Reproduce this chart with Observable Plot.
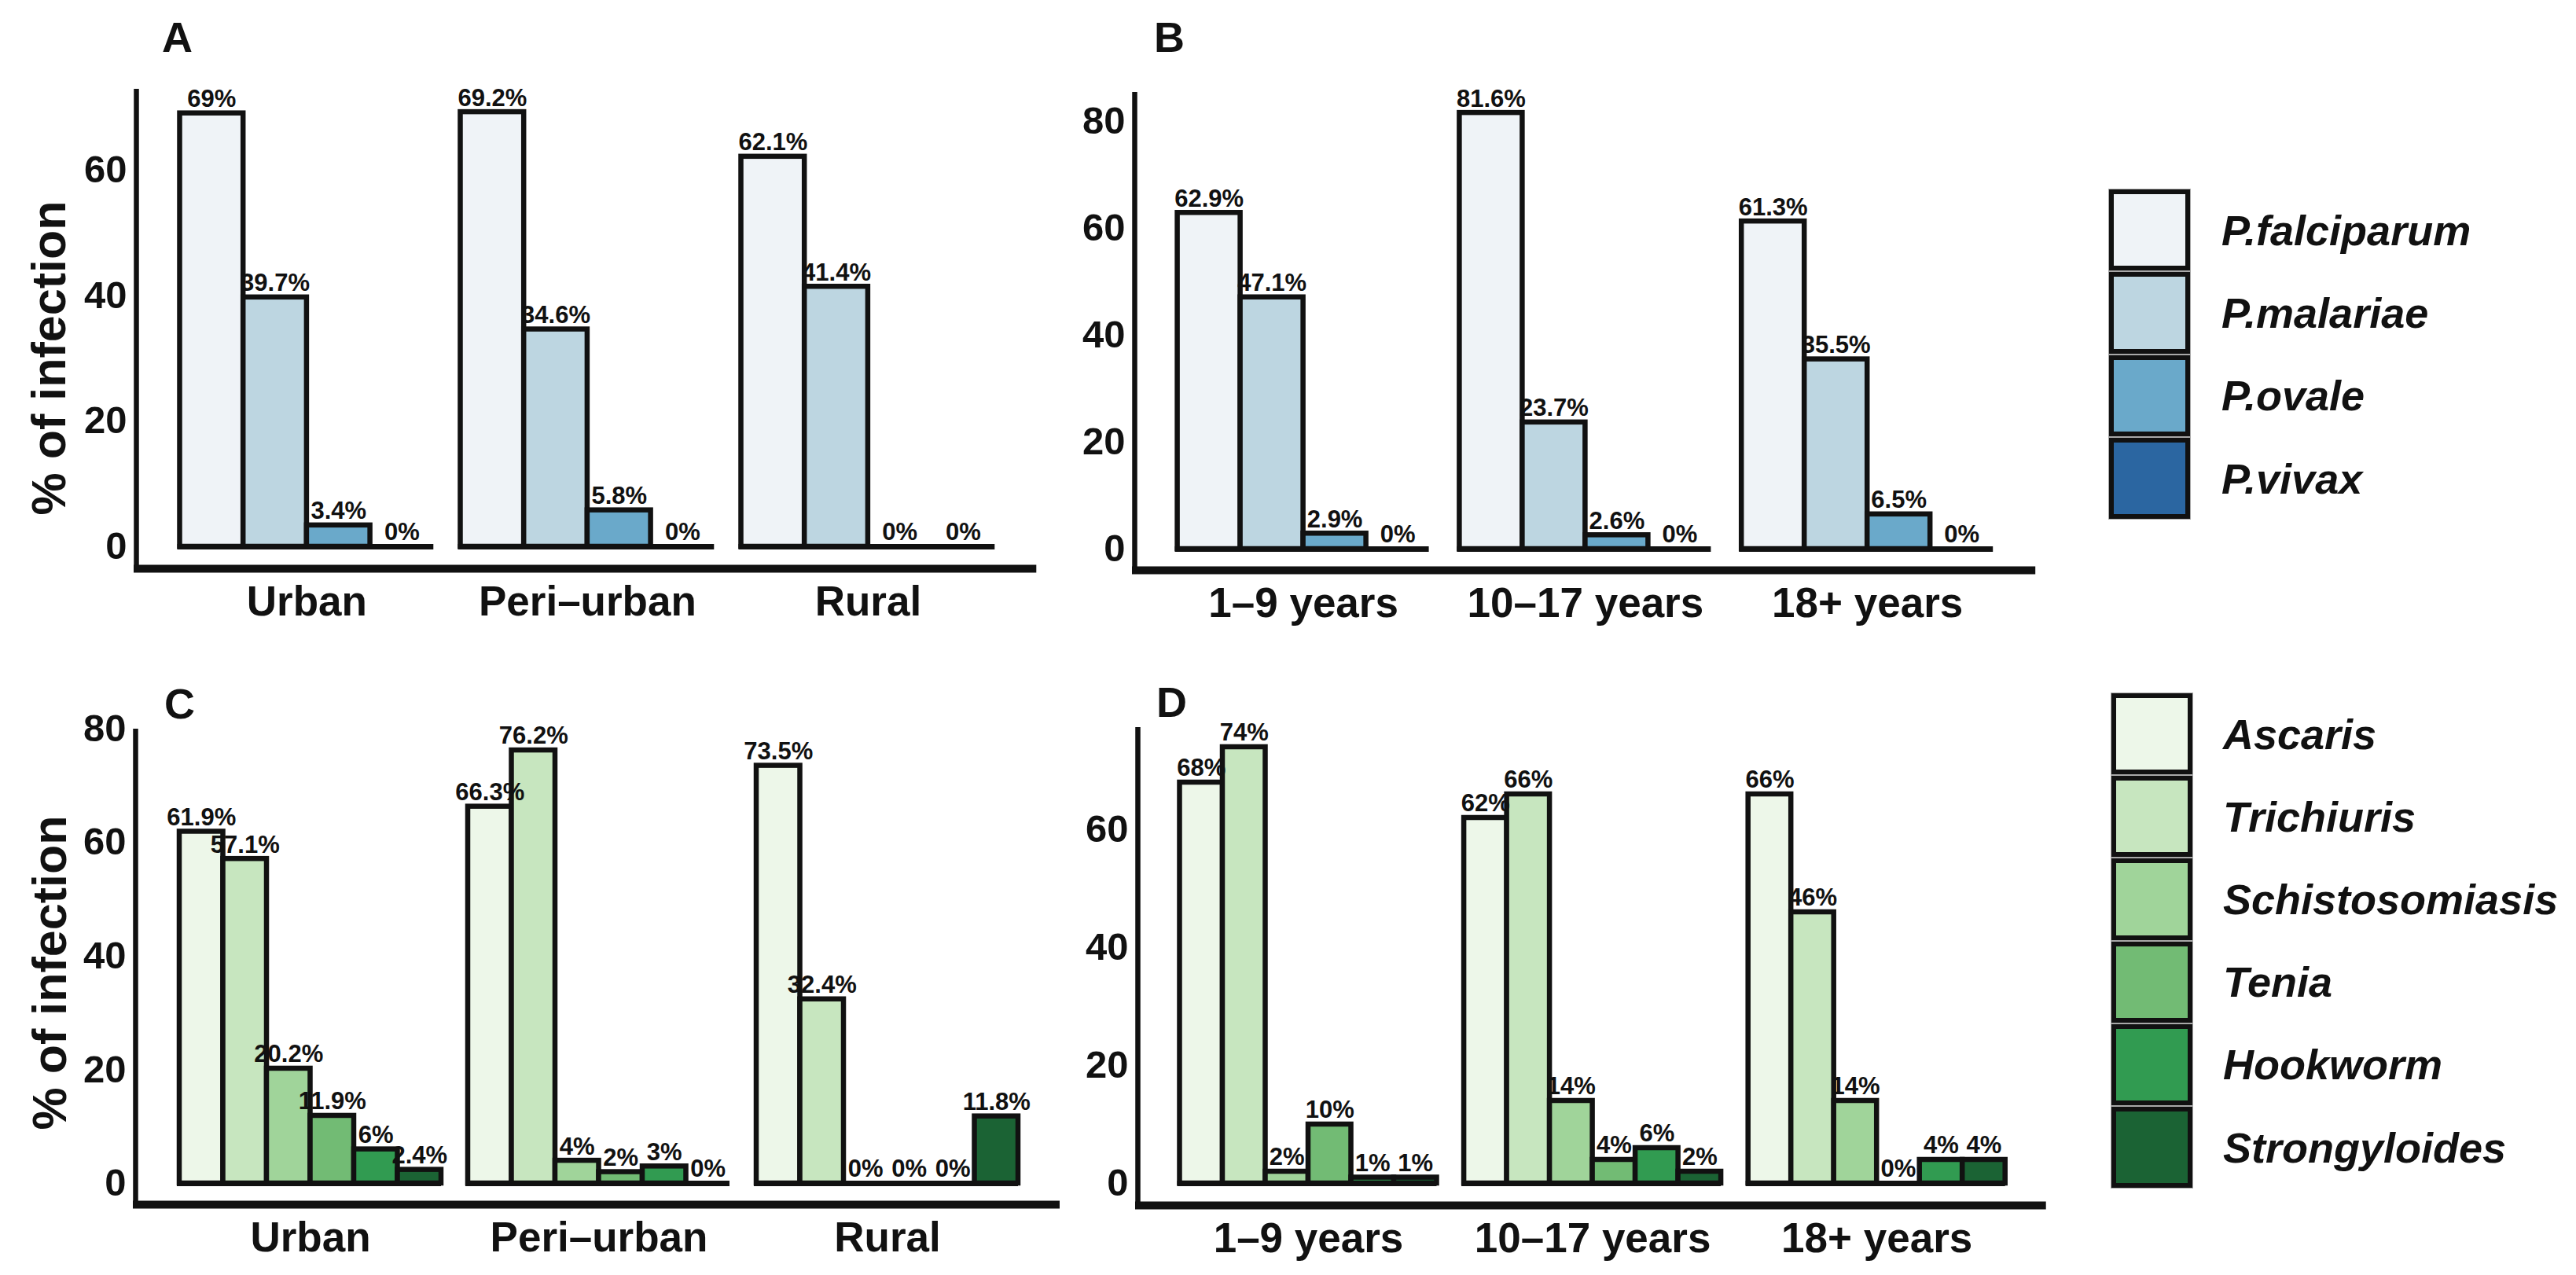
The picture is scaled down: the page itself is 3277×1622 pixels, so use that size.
<!DOCTYPE html>
<html>
<head>
<meta charset="utf-8">
<script src="https://cdn.jsdelivr.net/npm/d3@7"></script>
<script src="https://cdn.jsdelivr.net/npm/@observablehq/plot@0.6"></script>
<style>
  html, body { margin: 0; padding: 0; background: #fff; }
  #page { position: relative; width: 3277px; height: 1622px; overflow: hidden;
          font-family: "Liberation Sans", Arial, sans-serif; color: #111; background: #fff; }
  .panel { position: absolute; width: 1400px; height: 811px; }
  .letter { position: absolute; font-size: 54px; font-weight: bold; line-height: 1; }
  .legend { position: absolute; }
  .lrow { display: flex; align-items: center; }
  .lkey { box-sizing: border-box; border: 6px solid #111; }
  .ltext { font-size: 54px; font-weight: bold; font-style: italic; white-space: nowrap; }
</style>
</head>
<body>
<div id="page"></div>
<script>
// ---------------- data ----------------
const malariaSpecies = ["P.falciparum", "P.malariae", "P.ovale", "P.vivax"];
const helminthSpecies = ["Ascaris", "Trichiuris", "Schistosomiasis", "Tenia", "Hookworm", "Strongyloides"];
const malariaColors = ["#eff3f7", "#bdd6e1", "#6aa9ca", "#2b66a1"];
const helminthColors = ["#edf7e9", "#c7e6bf", "#a0d49a", "#72bb74", "#319b51", "#1b6334"];
const residenceGroups = ["Urban", "Peri\u2013urban", "Rural"];
const ageGroups = ["1\u20139 years", "10\u201317 years", "18+ years"];
// % of infection, rows = groups, columns = species
const malariaByResidence = [[69, 39.7, 3.4, 0], [69.2, 34.6, 5.8, 0], [62.1, 41.4, 0, 0]];
const malariaByAge = [[62.9, 47.1, 2.9, 0], [81.6, 23.7, 2.6, 0], [61.3, 35.5, 6.5, 0]];
const helminthByResidence = [[61.9, 57.1, 20.2, 11.9, 6, 2.4], [66.3, 76.2, 4, 2, 3, 0], [73.5, 32.4, 0, 0, 0, 11.8]];
const helminthByAge = [[68, 74, 2, 10, 1, 1], [62, 66, 14, 4, 6, 2], [66, 46, 14, 0, 4, 4]];
const ticksA = [0, 20, 40, 60];
const ticksB = [0, 20, 40, 60, 80];
const ticksC = [0, 20, 40, 60, 80];
const ticksD = [0, 20, 40, 60];
const yTitle = "% of infection";

// ---------------- layout (page pixels) ----------------
const page = document.getElementById("page");
const W = 1400, H = 811;

function makePanel(cfg) {
  const n = cfg.species.length;
  const gap = (cfg.pitch - n * cfg.barW) / cfg.barW;
  const step = n + gap;
  const xlo = -(cfg.firstBar - cfg.axisX) / cfg.barW;
  const xhi = (cfg.groups.length - 1) * step + n + cfg.endPad / cfg.barW;
  const ylo = -(cfg.axisBottom - cfg.base) / cfg.ppu;
  const yhi = (cfg.base - cfg.axisTop) / cfg.ppu;
  const mL = cfg.axisX - cfg.left;
  const mR = W - (mL + (xhi - xlo) * cfg.barW);
  const mT = cfg.axisTop - cfg.top;
  const mB = H - (cfg.axisBottom - cfg.top);

  const rows = [];
  cfg.values.forEach((vals, gi) => vals.forEach((v, si) =>
    rows.push({group: cfg.groups[gi], gi, species: cfg.species[si], si, value: v})));

  const marks = [
    Plot.rectY(rows, {
      x1: d => d.gi * step + d.si, x2: d => d.gi * step + d.si + 1,
      y1: () => 0, y2: "value", fill: "species", stroke: "#111", strokeWidth: 6.5
    }),
    Plot.ruleY(cfg.groups, {
      x1: (g, i) => i * step - 3 / cfg.barW, x2: (g, i) => i * step + n, y: () => 0,
      stroke: "#111", strokeWidth: 7
    }),
    Plot.ruleX([xlo], {x: d => d, y1: () => ylo, y2: () => yhi, stroke: "#111", strokeWidth: 6.5}),
    Plot.ruleY([ylo], {y: d => d, x1: () => xlo - 3 / cfg.barW, x2: () => xhi, stroke: "#111", strokeWidth: 10}),
    Plot.text(rows, {
      x: d => d.gi * step + d.si + 0.5, y: "value", text: d => `${d.value}%`,
      dy: -18, lineAnchor: "middle", fontSize: 31, fontWeight: "bold", fill: "#111"
    }),
    Plot.text(cfg.groups, {
      x: (g, i) => i * step + n / 2, y: () => ylo, text: d => d,
      dy: 22, lineAnchor: "top", fontSize: 53, fontWeight: "bold", fill: "#111"
    })
  ];
  if (cfg.title) {
    marks.push(Plot.text([cfg.title], {
      frameAnchor: "top-left", text: d => d, rotate: -90,
      dx: cfg.titleX - cfg.axisX, dy: cfg.titleY - cfg.axisTop,
      lineAnchor: "middle", textAnchor: "middle", fontSize: 61, fontWeight: "bold", fill: "#111"
    }));
  }

  const svg = Plot.plot({
    width: W, height: H,
    marginLeft: mL, marginRight: mR, marginTop: mT, marginBottom: mB,
    x: {domain: [xlo, xhi], axis: null},
    y: {domain: [ylo, yhi], ticks: cfg.ticks, tickSize: 0, tickPadding: 12, label: null},
    color: {type: "ordinal", domain: cfg.species, range: cfg.colors},
    style: {fontFamily: "Liberation Sans, Arial, sans-serif", fontSize: "49px", fontWeight: "bold",
            background: "transparent", overflow: "visible", color: "#111"},
    marks
  });
  const div = document.createElement("div");
  div.className = "panel";
  div.style.left = cfg.left + "px";
  div.style.top = cfg.top + "px";
  div.appendChild(svg);
  page.appendChild(div);

  const letter = document.createElement("div");
  letter.className = "letter";
  letter.textContent = cfg.letter;
  letter.style.left = cfg.letterX + "px";
  letter.style.top = cfg.letterY + "px";
  page.appendChild(letter);
}

makePanel({letter: "A", letterX: 206, letterY: 20, groups: residenceGroups, species: malariaSpecies,
  colors: malariaColors, values: malariaByResidence, ticks: ticksA, title: yTitle, titleX: 63, titleY: 455,
  left: 0, top: 0, axisX: 173, axisTop: 113, axisBottom: 723, base: 695, ppu: 7.99,
  firstBar: 228.5, barW: 80.7, pitch: 357, endPad: 53});
makePanel({letter: "B", letterX: 1468, letterY: 20, groups: ageGroups, species: malariaSpecies,
  colors: malariaColors, values: malariaByAge, ticks: ticksB,
  left: 1300, top: 0, axisX: 1443, axisTop: 117, axisBottom: 725, base: 698, ppu: 6.8,
  firstBar: 1497.6, barW: 80, pitch: 358.8, endPad: 54});
makePanel({letter: "C", letterX: 209, letterY: 868, groups: residenceGroups, species: helminthSpecies,
  colors: helminthColors, values: helminthByResidence, ticks: ticksC, title: yTitle, titleX: 64, titleY: 1237,
  left: 0, top: 811, axisX: 172, axisTop: 927, axisBottom: 1532, base: 1505, ppu: 7.23,
  firstBar: 228, barW: 55.5, pitch: 367, endPad: 53});
makePanel({letter: "D", letterX: 1471, letterY: 866, groups: ageGroups, species: helminthSpecies,
  colors: helminthColors, values: helminthByAge, ticks: ticksD,
  left: 1300, top: 811, axisX: 1447, axisTop: 925, axisBottom: 1533, base: 1505, ppu: 7.5,
  firstBar: 1500.5, barW: 54.5, pitch: 361.6, endPad: 52});

// ---------------- legends ----------------
function makeLegend(species, colors, left, top, rowH, keyW, textGap) {
  const lg = document.createElement("div");
  lg.className = "legend";
  lg.style.left = left + "px";
  lg.style.top = top + "px";
  species.forEach((s, i) => {
    const row = document.createElement("div");
    row.className = "lrow";
    row.style.height = rowH + "px";
    const key = document.createElement("div");
    key.className = "lkey";
    key.style.width = keyW + "px";
    key.style.height = (rowH - 2) + "px";
    key.style.background = colors[i];
    key.style.outline = "1px solid #a8a8a8";
    const t = document.createElement("div");
    t.className = "ltext";
    t.style.marginLeft = textGap + "px";
    t.textContent = s;
    row.appendChild(key);
    row.appendChild(t);
    lg.appendChild(row);
  });
  page.appendChild(lg);
}
makeLegend(malariaSpecies, malariaColors, 2683, 240, 105.3, 103, 40);
makeLegend(helminthSpecies, helminthColors, 2686, 881, 105.2, 103, 39);
</script>
</body>
</html>
